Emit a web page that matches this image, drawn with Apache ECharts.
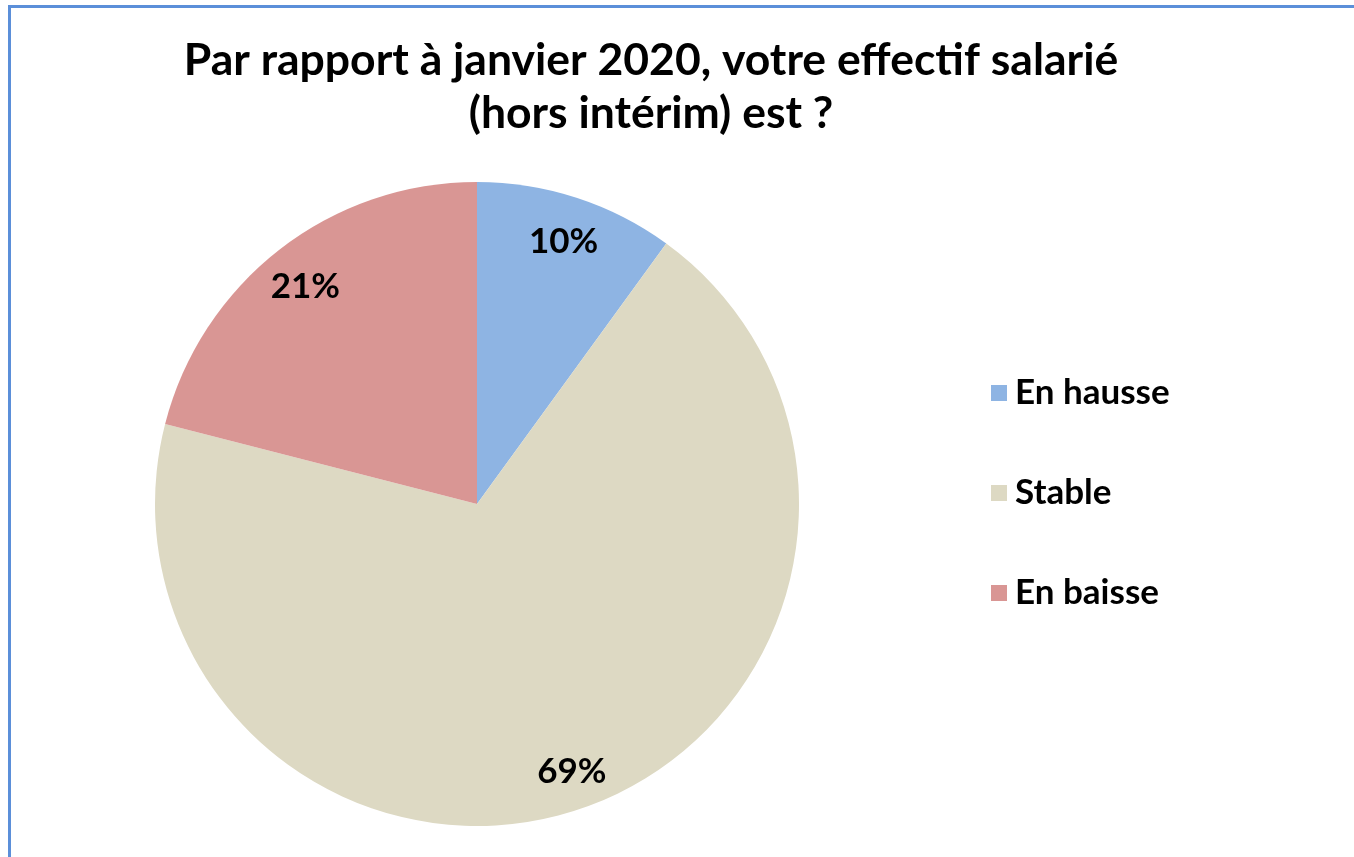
<!DOCTYPE html>
<html>
<head>
<meta charset="utf-8">
<script src="https://cdn.jsdelivr.net/npm/echarts@6/dist/echarts.min.js"></script>
<style>
  html, body { margin: 0; padding: 0; background: #fff; }
  #chart { position: absolute; left: 0; top: 0; width: 1354px; height: 857px; }
  #frame {
    position: absolute; left: 8px; top: 5px; width: 1354px; height: 860px;
    border-left: 3px solid #5b8fd9; border-top: 3px solid #5b8fd9;
    pointer-events: none;
  }
</style>
</head>
<body>
<div id="chart"></div>
<div id="frame"></div>
<script>
const categories = ['En hausse', 'Stable', 'En baisse'];
const values = [10, 69, 21];
const colors = ['#8eb4e3', '#ddd9c3', '#d99694'];

const chart = echarts.init(document.getElementById('chart'));
const font = 'Lato';

const pieData = categories.map((name, i) => ({
  name,
  value: values[i],
  itemStyle: { color: colors[i] },
}));

chart.setOption({
  animation: false,
  title: {
    text: 'Par rapport à janvier 2020, votre effectif salarié\n(hors intérim) est ?',
    left: 646,
    top: 29,
    textAlign: 'center',
    textStyle: {
      fontFamily: font,
      fontWeight: 'bold',
      fontSize: 44.5,
      lineHeight: 53,
      color: '#000',
    },
  },
  legend: {
    orient: 'vertical',
    left: 986,
    top: 368,
    itemWidth: 16,
    itemHeight: 16,
    itemGap: 60,
    icon: 'rect',
    data: categories,
    textStyle: {
      fontFamily: font,
      fontWeight: 'bold',
      fontSize: 35,
      lineHeight: 40,
      padding: [0, 0, 0, 3],
      color: '#000',
    },
  },
  series: [
    {
      type: 'pie',
      center: [477, 504],
      radius: [0, 322],
      startAngle: 90,
      clockwise: true,
      label: { show: false },
      labelLine: { show: false },
      data: pieData,
    },
    {
      // transparent ring, only used to place the percentage labels
      type: 'pie',
      center: [477, 504],
      radius: [232, 322],
      startAngle: 90,
      clockwise: true,
      silent: true,
      label: {
        show: true,
        position: 'inside',
        formatter: '{c}%',
        fontFamily: font,
        fontWeight: 'bold',
        fontSize: 35,
        offset: [0, 4],
        color: '#000',
      },
      labelLine: { show: false },
      data: categories.map((name, i) => ({ name, value: values[i], itemStyle: { color: 'rgba(0,0,0,0)' } })),
    },
  ],
});
</script>
</body>
</html>
